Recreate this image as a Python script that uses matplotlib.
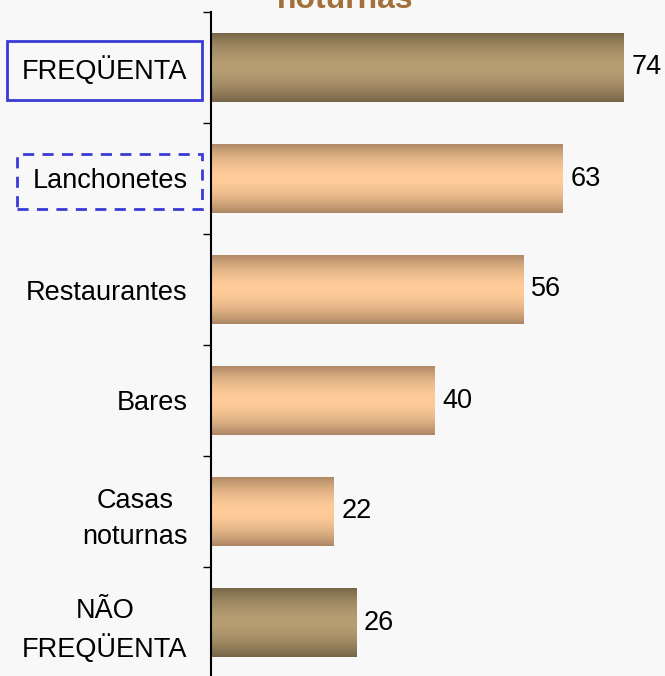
import matplotlib
matplotlib.use('Agg')
import matplotlib.pyplot as plt
import numpy as np
from matplotlib.colors import to_rgb

plt.rcParams['font.family'] = ['Liberation Sans', 'DejaVu Sans']

categories = ['FREQÜENTA', 'Lanchonetes', 'Restaurantes', 'Bares', 'Casas\nnoturnas', 'NÃO\nFREQÜENTA']
values = [74, 63, 56, 40, 22, 26]
groups = ['total', 'item', 'item', 'item', 'item', 'total']

edge_colors = {'total': '#756447', 'item': '#AC8664'}
center_colors = {'total': '#B69D72', 'item': '#FFCC99'}
bg = '#F8F8F8'

fig = plt.figure(figsize=(6.65, 6.76), dpi=100, facecolor=bg)
ax = fig.add_axes([211/665, -2/676, 454/665, 666/676])
ax.set_facecolor(bg)

y = np.arange(len(categories))
bars = ax.barh(y, values, height=0.63, color='none', edgecolor='none')
t = np.linspace(-1, 1, 200)
f = 1 - np.abs(t)**1.8
for b, g in zip(bars, groups):
    x0, y0 = b.get_x(), b.get_y()
    w, h = b.get_width(), b.get_height()
    e = np.array(to_rgb(edge_colors[g]))
    c = np.array(to_rgb(center_colors[g]))
    img = e[None, :] + (c - e)[None, :] * f[:, None]
    im = ax.imshow(img[:, None, :], extent=[x0, x0 + w, y0, y0 + h],
                   aspect='auto', interpolation='bilinear', zorder=2)
    im.set_clip_path(b)

for i, v in enumerate(values):
    ax.text(v + 1.4, i, str(v), va='center', ha='left', fontsize=19.5, color='black')

ax.set_xlim(0, 454 / 5.58)
ax.set_ylim(len(categories) - 0.5, -0.5)

ax.set_yticks(y)
labels = ax.set_yticklabels(categories, fontsize=19.5)
for lab in labels:
    lab.set_multialignment('center')
    lab.set_linespacing(1.45)
ax.set_yticks(np.arange(-0.5, len(categories), 1), minor=True)
ax.tick_params(axis='y', which='major', length=0, pad=17)
ax.tick_params(axis='y', which='minor', length=6, width=1, direction='out', color='black')
ax.set_xticks([])

for s in ['top', 'right', 'bottom']:
    ax.spines[s].set_visible(False)
ax.spines['left'].set_linewidth(1.5)
ax.spines['left'].set_color('black')

labels[0].set_bbox(dict(boxstyle='square,pad=0.55', fc='none', ec='#3A3AD6', lw=2))
labels[1].set_bbox(dict(boxstyle='square,pad=0.55', fc='none', ec='#3A3AD6', lw=2, ls=(0, (4, 3))))

fig.text(345 / 665, 1 - 8 / 676, 'noturnas', ha='center', va='baseline',
         fontsize=23, fontweight='bold', color='#A3703C')

fig.savefig('out.png', dpi=100, facecolor=bg)
